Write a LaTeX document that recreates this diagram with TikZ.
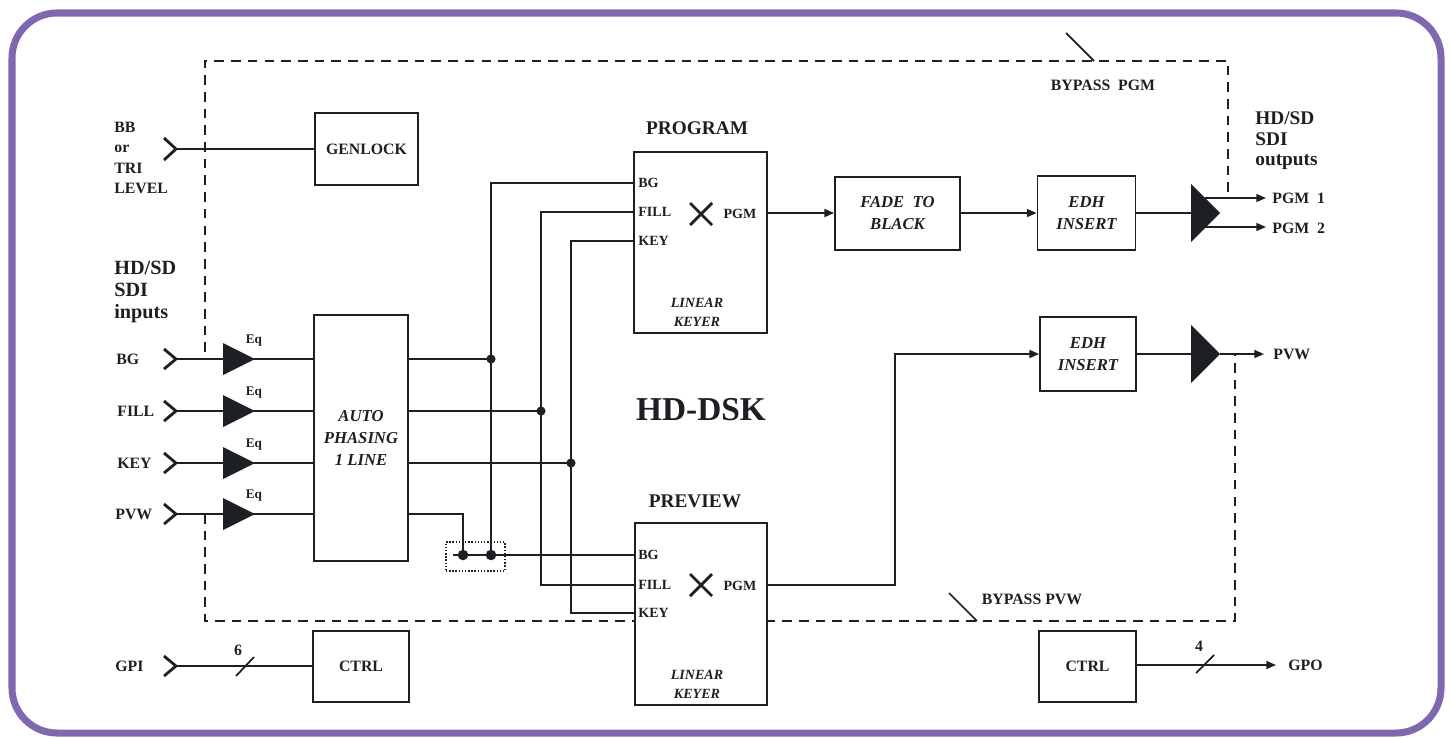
\documentclass[tikz,border=0pt]{standalone}
\usepackage{fontspec}
\setmainfont{Liberation Serif}
\usetikzlibrary{arrows.meta}
\definecolor{framepurple}{RGB}{128,104,176}
\definecolor{ink}{RGB}{28,32,36}
\tikzset{
  blk/.style={draw=ink, line width=1pt, fill=white, align=center, inner sep=0pt, text=ink, font=\bfseries\fontsize{9}{12}\selectfont},
  iblk/.style={blk, font=\bfseries\itshape\fontsize{9.5}{12.5}\selectfont},
  sig/.style={draw=ink, line width=1pt},
  arr/.style={sig, -{Triangle[length=5.5pt,width=4.5pt]}},
  bypass/.style={draw=ink, line width=1.1pt, dash pattern=on 5.5pt off 4pt},
  chev/.style={draw=ink, line width=1.6pt, line join=miter},
  lbl/.style={font=\bfseries\fontsize{9}{11.6}\selectfont, text=ink, inner sep=0pt, align=left},
  eqlbl/.style={font=\bfseries\fontsize{7.5}{9}\selectfont, text=ink, inner sep=0pt},
  port/.style={font=\bfseries\fontsize{8}{9}\selectfont, text=ink, inner sep=0pt, anchor=west},
  keyer/.style={font=\bfseries\itshape\fontsize{8}{10.8}\selectfont, text=ink, inner sep=0pt, align=center},
  keytitle/.style={font=\bfseries\fontsize{11}{12}\selectfont, text=ink, inner sep=0pt},
  head/.style={font=\bfseries\fontsize{11.5}{12.5}\selectfont, text=ink, inner sep=0pt, align=left, anchor=west},
}
\begin{document}
\begin{tikzpicture}[x=0.02cm, y=-0.02cm]
  \useasboundingbox (0,0) rectangle (1450,738);
  \draw[framepurple, line width=4pt, rounded corners=0.9cm] (12,13) rectangle (1441,733);

  \coordinate (inBB) at (176,149);
  \coordinate (inBG) at (176,359);
  \coordinate (inFILL) at (176,411);
  \coordinate (inKEY) at (176,463);
  \coordinate (inPVW) at (176,514);
  \coordinate (inGPI) at (176,666);
  \coordinate (outPGM1) at (1266,198);
  \coordinate (outPGM2) at (1266,227);
  \coordinate (outPVW) at (1264,354);
  \coordinate (outGPO) at (1276,665);
  \coordinate (tapBG) at (205,352);
  \coordinate (tapPVW) at (205,514);
  \coordinate (topR) at (1228,61);
  \coordinate (botR) at (1235,621);

  \draw[bypass] (tapBG) |- (topR) -- (topR |- outPGM1);
  \draw[bypass] (tapPVW) |- (botR) -- (botR |- outPVW);
  \draw[sig] (1066,33) -- (1094,61);
  \draw[sig] (949,593) -- (977,621);
  \node[lbl] (bypPGM) at (1103,85) {BYPASS\ \ PGM};
  \node[lbl] (bypPVW) at (1032,599) {BYPASS PVW};

  \node[blk, minimum width=2.06cm, minimum height=1.44cm] (genlock) at (366.5,149) {GENLOCK};
  \node[iblk, minimum width=1.88cm, minimum height=4.92cm] (phase) at (361,438) {AUTO\\PHASING\\1 LINE};
  \node[blk, minimum width=2.66cm, minimum height=3.62cm] (prog) at (700.5,242.5) {};
  \node[blk, minimum width=2.64cm, minimum height=3.64cm] (prev) at (701,614) {};
  \node[iblk, minimum width=2.5cm, minimum height=1.46cm] (fade) at (897.5,213.5) {FADE\ \ TO\\BLACK};
  \node[iblk, minimum width=1.96cm, minimum height=1.48cm] (edhA) at (1086.5,213) {EDH\\INSERT};
  \node[iblk, minimum width=1.92cm, minimum height=1.48cm] (edhB) at (1088,354) {EDH\\INSERT};
  \node[blk, minimum width=1.92cm, minimum height=1.42cm] (ctrlA) at (361,666.5) {CTRL};
  \node[blk, minimum width=1.94cm, minimum height=1.42cm] (ctrlB) at (1087.5,666.5) {CTRL};

  \node[keytitle] (progT) at (697,128) {PROGRAM};
  \node[port] (progBG) at (638,183) {BG};
  \node[port] (progFILL) at (638,212) {FILL};
  \node[port] (progKEY) at (638,241) {KEY};
  \node[port, anchor=center] (progPGM) at (740,214) {PGM};
  \draw[ink, line width=1.6pt] (690,203) -- (712,225) (690,225) -- (712,203);
  \node[keyer] (progLK) at (697,312.5) {LINEAR\\KEYER};

  \node[keytitle] (prevT) at (695,501) {PREVIEW};
  \node[port] (prevBG) at (638,555) {BG};
  \node[port] (prevFILL) at (638,585) {FILL};
  \node[port] (prevKEY) at (638,613) {KEY};
  \node[port, anchor=center] (prevPGM) at (740,586) {PGM};
  \draw[ink, line width=1.6pt] (690,574) -- (712,596) (690,596) -- (712,574);
  \node[keyer] (prevLK) at (697,684) {LINEAR\\KEYER};

  \node[font=\bfseries\fontsize{19}{20}\selectfont, text=ink, inner sep=0pt] (dsk) at (701,410) {HD-DSK};

  \node[lbl, anchor=west] (bbLbl) at (114,158) {BB\\or\\TRI\\LEVEL};
  \node[head] (inHead) at (114,292) {HD/SD\\SDI\\inputs};
  \node[lbl, anchor=west] (lBG) at (116,359) {BG};
  \node[lbl, anchor=west] (lFILL) at (117,411) {FILL};
  \node[lbl, anchor=west] (lKEY) at (117,463) {KEY};
  \node[lbl, anchor=west] (lPVW) at (115,514) {PVW};
  \node[lbl, anchor=west] (lGPI) at (115,666) {GPI};

  \draw[sig] (inBB) -- (genlock.west |- inBB);
  \draw[sig] (inBG) -- (phase.west |- inBG);
  \draw[sig] (inFILL) -- (phase.west |- inFILL);
  \draw[sig] (inKEY) -- (phase.west |- inKEY);
  \draw[sig] (inPVW) -- (phase.west |- inPVW);
  \draw[sig] (inGPI) -- (ctrlA.west |- inGPI);
  \draw[chev] (inBB) ++(-12,-11) -- (inBB) -- ++(-12,11);
  \draw[chev] (inBG) ++(-12,-10) -- (inBG) -- ++(-12,10);
  \draw[chev] (inFILL) ++(-12,-10) -- (inFILL) -- ++(-12,10);
  \draw[chev] (inKEY) ++(-12,-10) -- (inKEY) -- ++(-12,10);
  \draw[chev] (inPVW) ++(-12,-10) -- (inPVW) -- ++(-12,10);
  \draw[chev] (inGPI) ++(-12,-10) -- (inGPI) -- ++(-12,10);

  \fill[ink] (inBG) ++(47,-16) -- ++(32,16) -- ++(-32,16) -- cycle;
  \fill[ink] (inFILL) ++(47,-16) -- ++(32,16) -- ++(-32,16) -- cycle;
  \fill[ink] (inKEY) ++(47,-16) -- ++(32,16) -- ++(-32,16) -- cycle;
  \fill[ink] (inPVW) ++(47,-16) -- ++(32,16) -- ++(-32,16) -- cycle;
  \path (inBG) ++(78,-18) node[eqlbl] (eqBG) {Eq};
  \path (inFILL) ++(78,-18) node[eqlbl] (eqFILL) {Eq};
  \path (inKEY) ++(78,-18) node[eqlbl] (eqKEY) {Eq};
  \path (inPVW) ++(78,-18) node[eqlbl] (eqPVW) {Eq};

  \draw[sig] (236,676) -- (254,657);
  \node[lbl] (busIn) at (238,650) {6};

  \coordinate (jBG) at (491,359);
  \coordinate (jFILL) at (541,411);
  \coordinate (jKEY) at (571,463);
  \coordinate (jmpA) at (463,555);
  \coordinate (jmpB) at (491,555);
  \coordinate (jmpL) at (453,555);
  \draw[sig] (phase.east |- jBG) -- (jBG);
  \draw[sig] (phase.east |- jFILL) -- (jFILL);
  \draw[sig] (phase.east |- jKEY) -- (jKEY);
  \draw[sig] (phase.east |- inPVW) -| (jmpA);
  \draw[sig] (prog.west |- progBG) -| (jmpB);
  \draw[sig] (prog.west |- progFILL) -| (jFILL |- prevFILL) -- (prev.west |- prevFILL);
  \draw[sig] (prog.west |- progKEY) -| (jKEY |- prevKEY) -- (prev.west |- prevKEY);
  \draw[sig] (jmpL) -- (prev.west |- prevBG);
  \fill[ink] (jBG) circle (2.6pt) (jFILL) circle (2.6pt) (jKEY) circle (2.6pt);
  \fill[ink] (jmpA) circle (3pt) (jmpB) circle (3pt);
  \node[draw=ink, densely dotted, line width=0.8pt, minimum width=1.18cm, minimum height=0.58cm, inner sep=0pt] (jumper) at (475.5,556.5) {};

  \coordinate (progOut) at (767,213);
  \coordinate (prevOut) at (767,585);
  \coordinate (bend) at (895,354);
  \coordinate (ampA) at (1191,213);
  \coordinate (ampB) at (1191,354);
  \draw[arr] (progOut) -- (fade.west |- progOut);
  \draw[arr] (fade.east |- progOut) -- (edhA.west |- progOut);
  \draw[sig] (edhA.east |- ampA) -- (ampA);
  \fill[ink] (ampA) ++(0,-29) -- ++(29,29) -- ++(-29,29) -- cycle;
  \draw[arr] (ampA) ++(14,-15) -- (outPGM1);
  \draw[arr] (ampA) ++(14,14) -- (outPGM2);
  \draw[arr] (prevOut) -| (bend) -- (edhB.west |- bend);
  \draw[sig] (edhB.east |- ampB) -- (ampB);
  \fill[ink] (ampB) ++(0,-29) -- ++(29,29) -- ++(-29,29) -- cycle;
  \draw[arr] (ampB) ++(29,0) -- (outPVW);
  \draw[arr] (ctrlB.east |- outGPO) -- (outGPO);
  \draw[sig] (1196,673) -- (1214,655);
  \node[lbl] (busOut) at (1199,646) {4};

  \node[head, font=\bfseries\fontsize{11}{11.6}\selectfont] (outHead) at (1255,141) {HD/SD\\SDI\\outputs};
  \node[lbl, anchor=west] (lPGM1) at (1272,198) {PGM\ \ 1};
  \node[lbl, anchor=west] (lPGM2) at (1272,228) {PGM\ \ 2};
  \node[lbl, anchor=west] (lPVWo) at (1273,354) {PVW};
  \node[lbl, anchor=west] (lGPO) at (1288,665) {GPO};
\end{tikzpicture}
\end{document}
